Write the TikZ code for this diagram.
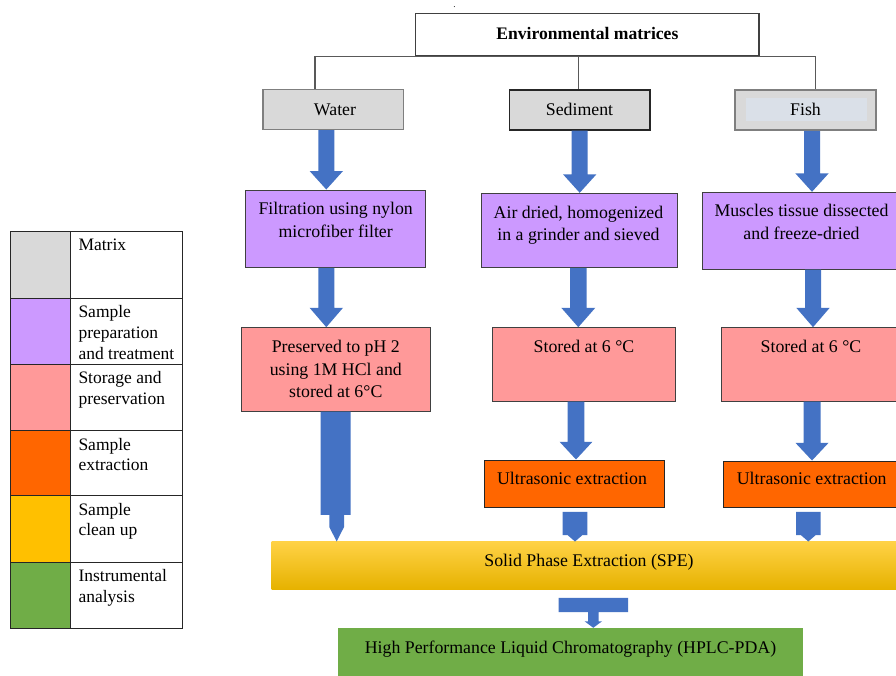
\documentclass[tikz,border=0pt]{standalone}
\usepackage{fontspec}
\setmainfont{Liberation Serif}
\usetikzlibrary{fit,calc}
\definecolor{mgray}{HTML}{D9D9D9}
\definecolor{finner}{RGB}{218,224,232}
\definecolor{mpurple}{HTML}{CC99FF}
\definecolor{mpink}{HTML}{FF9999}
\definecolor{morange}{HTML}{FF6600}
\definecolor{myellow}{HTML}{FFC000}
\definecolor{ytop}{RGB}{255,210,70}
\definecolor{ybot}{RGB}{230,178,0}
\definecolor{mgreen}{HTML}{70AD47}
\definecolor{ablue}{HTML}{4472C4}
\definecolor{dk}{HTML}{404040}
\definecolor{bgray}{HTML}{7F7F7F}
\definecolor{cgray}{HTML}{595959}
\newcommand{\barrow}[6]{%
  \fill[ablue] let \p1=(#1.south), \p2=(#2.north) in
    ({#3pt-#4pt},\y1) -- ({#3pt+#4pt},\y1) -- ({#3pt+#4pt},\y2+#6pt) --
    ({#3pt+#5pt},\y2+#6pt) -- (#3pt,\y2) -- ({#3pt-#5pt},\y2+#6pt) --
    ({#3pt-#4pt},\y2+#6pt) -- cycle;}
\newcommand{\sarrow}[3]{%
  \fill[ablue] let \p1=(#1.south), \p2=(#2.north) in
    ({#3pt-12.3pt},\y1-4pt) -- ({#3pt+12.3pt},\y1-4pt) -- ({#3pt+12.3pt},\y2+6.5pt) --
    ({#3pt+7.5pt},\y2+6.5pt) -- (#3pt,\y2) -- ({#3pt-7.5pt},\y2+6.5pt) --
    ({#3pt-12.3pt},\y2+6.5pt) -- cycle;}
\begin{document}
\begin{tikzpicture}[x=1pt,y=-1pt,
  rbox/.style={inner sep=0pt, line width=1pt},
  graybox/.style={rbox, fill=mgray, draw=bgray, line width=1.6pt},
  sedbox/.style={rbox, fill=mgray, draw=black!85, line width=1.1pt},
  prepbox/.style={rbox, fill=mpurple, draw=dk},
  storebox/.style={rbox, fill=mpink, draw=dk},
  extbox/.style={rbox, fill=morange, draw=black!85},
  txt/.style={inner sep=0pt, font=\fontsize{17.8}{22.5}\selectfont},
  ltxt/.style={inner sep=0pt, align=left, anchor=north west, font=\fontsize{17.5}{20.7}\selectfont},
  conn/.style={draw=cgray, line width=1.2pt},
  cell/.style={inner sep=0pt, draw=black!85, line width=1pt}]
\useasboundingbox (0,0) rectangle (896,675);
\fill[white] (0,0) rectangle (896,675);

% ---------- legend ----------
\node[cell, fill=mgray,   fit={(10.7,231.7) (70,298.3)}] (l1) {};
\node[cell, fill=mpurple, fit={(10.7,298.3) (70,364.3)}] (l2) {};
\node[cell, fill=mpink,   fit={(10.7,364.3) (70,430.7)}] (l3) {};
\node[cell, fill=morange, fit={(10.7,430.7) (70,495.7)}] (l4) {};
\node[cell, fill=myellow, fit={(10.7,495.7) (70,562.3)}] (l5) {};
\node[cell, fill=mgreen,  fit={(10.7,562.3) (70,628)}] (l6) {};
\node[cell, fit={(70,231.7) (182.7,298.3)}] (t1) {};
\node[cell, fit={(70,298.3) (182.7,364.3)}] (t2) {};
\node[cell, fit={(70,364.3) (182.7,430.7)}] (t3) {};
\node[cell, fit={(70,430.7) (182.7,495.7)}] (t4) {};
\node[cell, fit={(70,495.7) (182.7,562.3)}] (t5) {};
\node[cell, fit={(70,562.3) (182.7,628)}] (t6) {};
\node[ltxt] (lt1) at (78.3,238.8) {Matrix};
\node[ltxt] (lt2) at (78.3,305.4) {Sample\\preparation\\and treatment};
\node[ltxt] (lt3) at (78.3,371.4) {Storage and\\preservation};
\node[ltxt] (lt4) at (78.3,437.8) {Sample\\extraction};
\node[ltxt] (lt5) at (78.3,502.8) {Sample\\clean up};
\node[ltxt] (lt6) at (78.3,569.4) {Instrumental\\analysis};

% ---------- top ----------
\node[inner sep=0pt, font=\fontsize{9}{9}\selectfont] (dot) at (454.5,7) {.};
\node[rbox, draw=dk, line width=1.2pt, fit={(415.7,13.3) (759,56)}] (env) {};
\node[txt, anchor=base, font=\fontsize{17.6}{20}\selectfont\bfseries] (envt) at (587.4,39.5) {Environmental matrices};

\node[graybox, fit={(262.7,89.3) (403.3,129.3)}] (water) {};
\node[sedbox,  fit={(509.3,90) (650,130)}] (sed) {};
\node[graybox, line width=1.8pt, fit={(735,90) (876,130)}] (fish) {};
\node[inner sep=0pt, fill=finner, fit={(746,98.3) (866.7,120.7)}] (fishin) {};
\node[txt, anchor=base] (watert) at (335,115) {Water};
\node[txt, anchor=base] (sedt) at (579.5,115) {Sediment};
\node[txt, anchor=base] (fisht) at (805.5,115) {Fish};

\draw[conn] ([xshift=-18pt]water.north) |- (env.south) -| ([xshift=10.2pt]fish.north);
\draw[conn] ([xshift=-1pt]sed.north) -- ([xshift=-1pt]sed.north |- env.south);

% ---------- preparation ----------
\node[prepbox, fit={(245.7,190) (425.7,267.3)}] (wprep) {};
\node[prepbox, fit={(481.7,193.3) (677.3,267.3)}] (sprep) {};
\node[prepbox, fit={(702.7,192.3) (900,269)}] (fprep) {};
\node[txt, align=center, anchor=north, font=\fontsize{17.8}{23.4}\selectfont] (wprept) at (335.7,202) {Filtration using nylon\\microfiber filter};
\node[txt, align=center, anchor=north, font=\fontsize{17.8}{22}\selectfont] (sprept) at (578.5,205.8) {Air dried, homogenized\\in a grinder and sieved};
\node[txt, align=center, anchor=north, font=\fontsize{17.8}{23.3}\selectfont] (fprept) at (801.5,203.7) {Muscles tissue dissected\\and freeze-dried};

% ---------- storage ----------
\node[storebox, fit={(241,327.7) (430.7,411)}] (wstore) {};
\node[storebox, fit={(492.7,327.7) (675.3,401)}] (sstore) {};
\node[storebox, fit={(721,327.7) (900,401)}] (fstore) {};
\node[txt, align=center, anchor=north, font=\fontsize{17.8}{22.5}\selectfont] (wstoret) at (335.8,340.4) {Preserved to pH 2\\using 1M HCl and\\stored at 6°C};
\node[txt, anchor=base] (sstoret) at (584,352) {Stored at 6 °C};
\node[txt, anchor=base] (fstoret) at (811,352) {Stored at 6 °C};

% ---------- extraction ----------
\node[extbox, fit={(484,460) (664,507.3)}] (sext) {};
\node[extbox, fit={(723.3,461) (900,507.3)}] (fext) {};
\node[txt, anchor=base] (sextt) at (572,484.5) {Ultrasonic extraction};
\node[txt, anchor=base] (fextt) at (811.7,484.3) {Ultrasonic extraction};

% ---------- SPE & HPLC ----------
\node[inner sep=0pt, top color=ytop, middle color=myellow, bottom color=ybot, fit={(271.7,541.7) (900,589)}] (spe) {};
\node[txt, anchor=base] (spet) at (589,566) {Solid Phase Extraction (SPE)};
\node[inner sep=0pt, fill=mgreen, fit={(337.7,628) (803,680)}] (hplc) {};
\node[txt, anchor=base] (hplct) at (570.5,653) {High Performance Liquid Chromatography (HPLC-PDA)};

% ---------- block arrows ----------
\barrow{water}{wprep}{326.3}{8}{16.7}{18.5}
\barrow{sed}{sprep}{579.7}{8}{16.7}{18.5}
\barrow{fish}{fprep}{812}{8}{16.7}{18.5}
\barrow{wprep}{wstore}{326.3}{8}{16.7}{19.4}
\barrow{sprep}{sstore}{578.3}{8.3}{17}{19.4}
\barrow{fprep}{fstore}{813}{8}{16.7}{19.4}
\barrow{sstore}{sext}{576}{8.3}{16.3}{17.6}
\barrow{fstore}{fext}{812}{8.5}{16.5}{17.6}
\sarrow{sext}{spe}{575}
\sarrow{fext}{spe}{808.3}
% long water arrow
\fill[ablue] let \p1=(wstore.south), \p2=(spe.north) in
  (320.7pt,\y1) -- (350.7pt,\y1) -- (350.7pt,\y2+26.7pt) -- (344pt,\y2+26.7pt) --
  (344pt,\y2+14.5pt) -- (336.7pt,\y2) -- (329.3pt,\y2+14.5pt) -- (329.3pt,\y2+26.7pt) --
  (320.7pt,\y2+26.7pt) -- cycle;
% SPE -> HPLC
\fill[ablue] let \p1=(spe.south), \p2=(hplc.north) in
  (558.7pt,\y1-8.7pt) -- (628pt,\y1-8.7pt) -- (628pt,\y2+15.7pt) -- (598.5pt,\y2+15.7pt) --
  (598.5pt,\y2+6.5pt) -- (602pt,\y2+6.5pt) -- (593.3pt,\y2) -- (584.6pt,\y2+6.5pt) --
  (588.1pt,\y2+6.5pt) -- (588.1pt,\y2+15.7pt) -- (558.7pt,\y2+15.7pt) -- cycle;
\end{tikzpicture}
\end{document}
